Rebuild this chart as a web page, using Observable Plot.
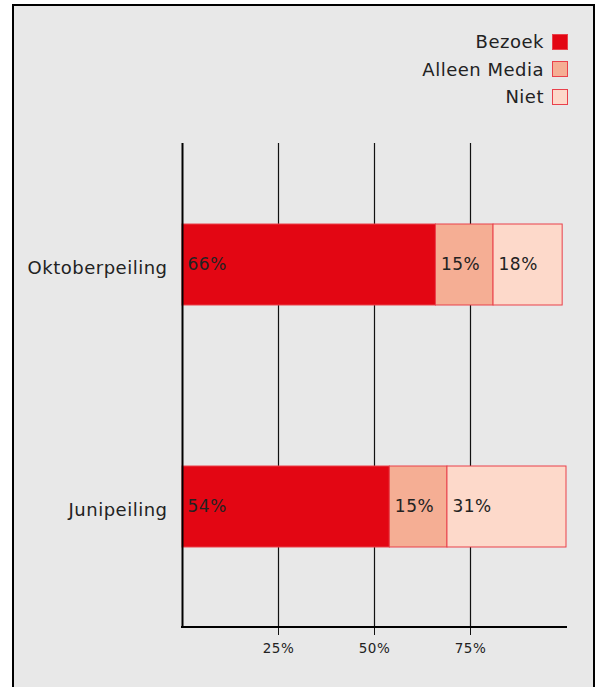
<!DOCTYPE html>
<html>
<head>
<meta charset="utf-8">
<script src="https://cdn.jsdelivr.net/npm/d3@7"></script>
<script src="https://cdn.jsdelivr.net/npm/@observablehq/plot@0.6"></script>
<style>
  html, body { margin: 0; padding: 0; background: #fff; }
  #wrap { position: relative; width: 596px; height: 687px; overflow: hidden; font-family: "DejaVu Sans", sans-serif; }
  #frame { position: absolute; left: 12px; top: 4px; width: 579px; height: 700px; border: 2px solid #000; background: #e8e8e8; }
  #legend { position: absolute; top: 28px; right: 28px; display: flex; flex-direction: column; align-items: flex-end; }
  .row { height: 27.5px; display: flex; align-items: center; gap: 8px; font-size: 18px; letter-spacing: 0.5px; color: #222; }
  .sw { width: 16px; height: 16px; box-sizing: border-box; border: 1px solid #e9414b; }
  #chart { position: absolute; left: 0; top: 120px; }
  #chart svg text { letter-spacing: 0.5px; }
</style>
</head>
<body>
<div id="wrap">
  <div id="frame"></div>
  <div id="legend"></div>
  <div id="chart"></div>
</div>
<script>
const categories = ["Oktoberpeiling", "Junipeiling"];
const series = ["Bezoek", "Alleen Media", "Niet"];
const oktober = [66, 15, 18];
const juni = [54, 15, 31];
const colors = ["#e30613", "#f5ae94", "#fdd9ca"];
const xTicks = [25, 50, 75];

const data = [];
[oktober, juni].forEach((vals, i) =>
  vals.forEach((v, j) => data.push({cat: categories[i], series: series[j], value: v}))
);

// legend
const legend = document.getElementById("legend");
series.forEach((s, i) => {
  const row = document.createElement("div");
  row.className = "row";
  const t = document.createElement("span");
  t.textContent = s;
  const sw = document.createElement("span");
  sw.className = "sw";
  sw.style.background = colors[i];
  row.appendChild(t);
  row.appendChild(sw);
  legend.appendChild(row);
});

const bottomLine = (index, scales, values, dims) =>
  d3.create("svg:line")
    .attr("x1", scales.x(0) - 1)
    .attr("x2", scales.x(100) + 1)
    .attr("y1", dims.height - dims.marginBottom)
    .attr("y2", dims.height - dims.marginBottom)
    .attr("stroke", "#000")
    .attr("stroke-width", 2)
    .node();

const chart = Plot.plot({
  width: 596,
  height: 567,
  marginTop: 23,
  marginBottom: 60,
  marginLeft: 182,
  marginRight: 30,
  style: {background: "transparent", fontFamily: "DejaVu Sans, sans-serif", color: "#222"},
  x: {domain: [0, 100], label: null},
  y: {domain: categories, paddingInner: 0.667, paddingOuter: 0.33, label: null},
  color: {domain: series, range: colors},
  marks: [
    Plot.ruleX(xTicks, {stroke: "#111", strokeWidth: 1.2}),
    Plot.barX(data, {x: "value", y: "cat", fill: "series", stroke: "#e9414b", strokeWidth: 1}),
    Plot.text(data, Plot.stackX1({
      x: "value", y: "cat", z: "series",
      text: d => d.value + "%",
      textAnchor: "start", dx: 5, fontSize: 17, fill: "#222"
    })),
    Plot.axisX(xTicks, {tickSize: 8, tickPadding: 8, tickFormat: d => d + "%", fontSize: 13.5, stroke: "#111", label: null}),
    Plot.axisY({tickSize: 0, tickPadding: 15, fontSize: 18, dy: 3, label: null}),
    Plot.ruleX([0], {stroke: "#000", strokeWidth: 2}),
    bottomLine
  ]
});
document.getElementById("chart").appendChild(chart);
</script>
</body>
</html>
